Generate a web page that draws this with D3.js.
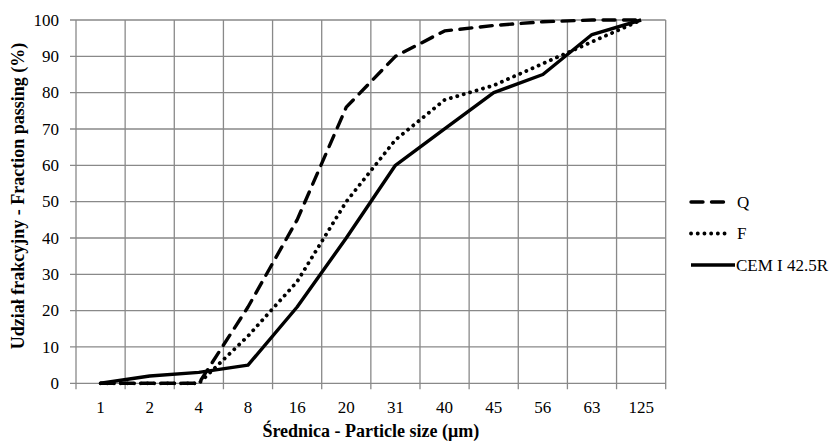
<!DOCTYPE html>
<html>
<head>
<meta charset="utf-8">
<script src="https://cdn.jsdelivr.net/npm/d3@7"></script>
<style>
  body { margin: 0; background: #fff; }
  .grid line { stroke: #898989; stroke-width: 1.3; }
  .series { fill: none; stroke: #000; stroke-linejoin: round; }
</style>
</head>
<body>
<div id="chart"></div>
<script>
// particle size classes (category axis)
var sizes = ["1", "2", "4", "8", "16", "20", "31", "40", "45", "56", "63", "125"];
var yTicks = [0, 10, 20, 30, 40, 50, 60, 70, 80, 90, 100];

var valuesQ   = [0, 0, 0, 21, 45, 76, 90, 97, 98.5, 99.5, 100, 100];
var valuesF   = [0, 0, 0, 13, 28, 50, 67, 78, 82, 88, 94, 100];
var valuesCEM = [0, 2, 3, 5, 21, 40, 60, 70, 80, 85, 96, 100];

var seriesNames = ["Q", "F", "CEM I 42.5R"];
var seriesValues = [valuesQ, valuesF, valuesCEM];

var width = 839, height = 445;
var margin = {left: 76, right: 173.3, top: 20, bottom: 61.7};
var font = "Liberation Serif";

// line style per series (dash patterns like the excel original)
var dashes = ["12,8.5", "0.1,6.6", null];
var caps = ["round", "round", "butt"];
var widths = [3.4, 3.8, 3.4];

var svg = d3.select("#chart").append("svg")
  .attr("width", width)
  .attr("height", height);

var x = d3.scaleBand()
  .domain(sizes)
  .range([margin.left, width - margin.right])
  .padding(0);

var y = d3.scaleLinear()
  .domain([0, 100])
  .range([height - margin.bottom, margin.top]);

var xMid = function(c) { return x(c) + x.bandwidth() / 2; };

// gridlines
var grid = svg.append("g").attr("class", "grid");
grid.selectAll(".hline").data(yTicks).enter().append("line")
  .attr("x1", margin.left - 6)
  .attr("x2", width - margin.right)
  .attr("y1", function(d) { return y(d); })
  .attr("y2", function(d) { return y(d); });

var bounds = sizes.map(function(c) { return x(c); }).concat([width - margin.right]);
grid.selectAll(".vline").data(bounds).enter().append("line")
  .attr("x1", function(d) { return d; })
  .attr("x2", function(d) { return d; })
  .attr("y1", margin.top)
  .attr("y2", height - margin.bottom + 6);

// tick labels
svg.append("g").selectAll("text").data(yTicks).enter().append("text")
  .attr("x", margin.left - 17)
  .attr("y", function(d) { return y(d); })
  .attr("dy", "0.34em")
  .attr("text-anchor", "end")
  .style("font-family", font)
  .style("font-size", "17px")
  .text(function(d) { return d; });

svg.append("g").selectAll("text").data(sizes).enter().append("text")
  .attr("x", xMid)
  .attr("y", 413)
  .attr("text-anchor", "middle")
  .style("font-family", font)
  .style("font-size", "17px")
  .text(function(d) { return d; });

// axis titles
svg.append("text")
  .attr("x", (margin.left + width - margin.right) / 2)
  .attr("y", 437)
  .attr("text-anchor", "middle")
  .style("font-family", font)
  .style("font-size", "18px")
  .style("font-weight", "bold")
  .text("Średnica - Particle size (μm)");

svg.append("text")
  .attr("transform", "translate(24,196) rotate(-90)")
  .attr("text-anchor", "middle")
  .style("font-family", font)
  .style("font-size", "18px")
  .style("font-weight", "bold")
  .text("Udział frakcyjny - Fraction passing (%)");

// series
var line = d3.line()
  .x(function(d, i) { return xMid(sizes[i]); })
  .y(function(d) { return y(d); });

seriesValues.forEach(function(vals, k) {
  svg.append("path")
    .attr("class", "series")
    .attr("d", line(vals))
    .attr("stroke-width", widths[k])
    .attr("stroke-dasharray", dashes[k])
    .attr("stroke-linecap", caps[k]);
});

// legend
var legendY = [202, 233.5, 265];
var legend = svg.append("g");
seriesNames.forEach(function(name, k) {
  legend.append("line")
    .attr("class", "series")
    .attr("x1", 691)
    .attr("x2", k == 2 ? 735 : 729)
    .attr("y1", legendY[k])
    .attr("y2", legendY[k])
    .attr("stroke-width", widths[k])
    .attr("stroke-dasharray", dashes[k])
    .attr("stroke-linecap", caps[k]);
  legend.append("text")
    .attr("x", k == 2 ? 736 : 737)
    .attr("y", legendY[k])
    .attr("dy", "0.34em")
    .style("font-family", font)
    .style("font-size", "17px")
    .text(name);
});
</script>
</body>
</html>
